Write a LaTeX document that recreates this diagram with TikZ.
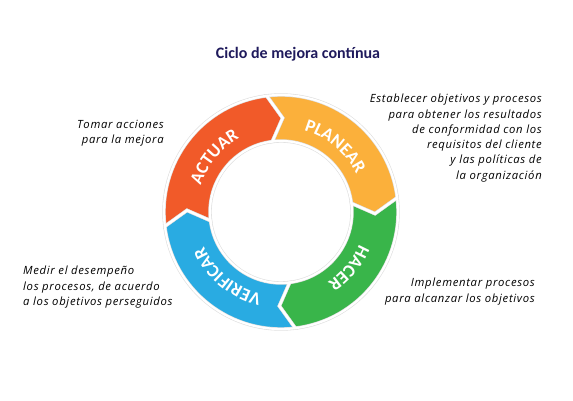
\documentclass[tikz,border=0pt]{standalone}
\usepackage{fontspec}
\setmainfont{Carlito}
\newfontfamily\handfont[LetterSpace=6]{Open Sans}
\usetikzlibrary{decorations.text}
\definecolor{cact}{HTML}{F15A29}
\definecolor{cpla}{HTML}{FBB03B}
\definecolor{chac}{HTML}{39B54A}
\definecolor{cver}{HTML}{29ABE2}
\definecolor{ctitle}{HTML}{1F1A5C}
\newcommand\Ro{117}
\newcommand\Ri{71}
\newcommand\Rm{94}
\newcommand\ringpath[1]{([shift={(#1:\Ro)}]C) arc[start angle=#1, end angle=#1-90, radius=\Ro]
  -- ([shift={(#1-98:\Rm)}]C) -- ([shift={(#1-90:\Ri)}]C)
  arc[start angle=#1-90, end angle=#1, radius=\Ri]
  -- ([shift={(#1-8:\Rm)}]C) -- cycle}
\newcommand\seglab{\bfseries\fontsize{18}{18}\selectfont\color{white}}
\tikzset{
  hand/.style={font=\handfont\itshape\fontsize{11.3}{15.3}\selectfont, inner sep=0pt, text=black},
  titletext/.style={font=\bfseries\fontsize{16}{18}\selectfont, text=ctitle, inner sep=0pt},
  seglabel/.style={decorate, decoration={text along path, text={|\seglab|#1}, text align=center, text color=white}}
}
\begin{document}
\begin{tikzpicture}[x=1pt,y=1pt]
\useasboundingbox (0,0) rectangle (573,401);
\coordinate (C) at (281,189);
% segments
\foreach \a/\c in {97/cpla, 7/chac, -83/cver, 187/cact} {
  \fill[\c] \ringpath{\a};
}
\foreach \a in {97, 7, -83, 187} {
  \draw[black!13, line width=3.4pt, line join=miter] \ringpath{\a};
}
\foreach \a in {97, 7, -83, 187} {
  \draw[white, line width=2.2pt, line join=miter] \ringpath{\a};
}
% labels on the ring
\path[seglabel=PLANEAR] ([shift={(95.5:84.5)}]C) arc[start angle=95.5, end angle=5.5, radius=84.5];
\path[seglabel=HACER] ([shift={(5.5:84.5)}]C) arc[start angle=5.5, end angle=-84.5, radius=84.5];
\path[seglabel=VERIFICAR] ([shift={(-84.5:84.5)}]C) arc[start angle=-84.5, end angle=-174.5, radius=84.5];
\path[seglabel=ACTUAR] ([shift={(185.5:84.5)}]C) arc[start angle=185.5, end angle=95.5, radius=84.5];
% title
\node[titletext, anchor=base] (title) at (298,342) {Ciclo de mejora contínua};
% annotations
\node[hand, align=right, anchor=north east] (plan) at (542,307) {Establecer objetivos y procesos\\para obtener los resultados\\de conformidad con los\\requisitos del cliente\\y las políticas de\\la organización};
\node[hand, align=right, anchor=north east] (act) at (164,281) {Tomar acciones\\para la mejora};
\node[hand, align=left, anchor=north west] (ver) at (23,135) {Medir el desempeño\\los procesos, de acuerdo\\a los objetivos perseguidos};
\node[hand, align=right, anchor=north east] (hac) at (535,123) {Implementar procesos\\para alcanzar los objetivos};
\end{tikzpicture}
\end{document}
